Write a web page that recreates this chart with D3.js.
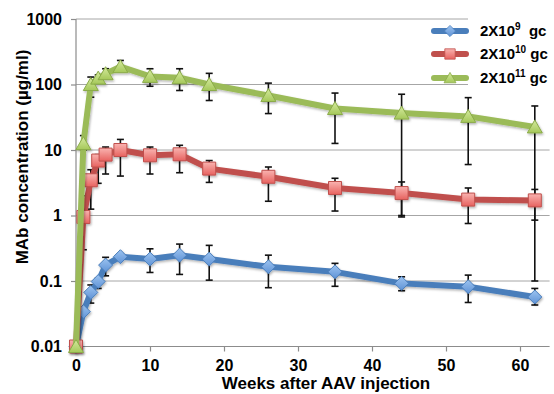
<!DOCTYPE html>
<html>
<head>
<meta charset="utf-8">
<script src="https://cdn.jsdelivr.net/npm/d3@7"></script>
<style>
  body { margin: 0; background: #fff; }
  text { font-family: "Liberation Sans", Arial, sans-serif; font-weight: bold; fill: #000; }
</style>
</head>
<body>
<div id="chart"></div>
<script>
// weeks after injection
const weeks = [0, 1, 2, 3, 4, 6, 10, 14, 18, 26, 35, 44, 53, 62];

// 2X10^9 gc
const lowMean = [0.01, 0.034, 0.067, 0.098, 0.175, 0.235, 0.216, 0.248, 0.216, 0.165, 0.138, 0.092, 0.082, 0.057];
const lowLow  = [null, null, 0.046, 0.077, 0.12, 0.21, 0.135, 0.126, 0.103, 0.079, 0.083, 0.071, 0.047, 0.043];
const lowHigh = [null, null, 0.087, 0.11, 0.23, 0.26, 0.31, 0.366, 0.35, 0.248, 0.186, 0.116, 0.123, 0.077];

// 2X10^10 gc
const midMean = [0.01, 0.95, 3.45, 6.9, 8.5, 10.0, 8.3, 8.6, 5.2, 3.9, 2.63, 2.2, 1.75, 1.7];
const midLow  = [null, 0.3, 1.25, 3.1, 4.3, 4.0, 4.3, 4.5, 3.2, 1.65, 1.17, 1.0, 0.755, 0.85];
const midHigh = [null, 2.0, 5.0, 8.5, 11.1, 14.5, 11.1, 11.8, 6.9, 5.5, 3.7, 3.25, 2.63, 2.5];

// 2X10^11 gc
const highMean = [0.01, 12.5, 100, 125, 146, 187, 133, 127, 100, 68, 43, 36.6, 32.6, 22.5];
const highLow  = [null, 10, 64, 110, 130, 165, 94, 81, 57, 36, 12.6, 0.95, 6.0, 0.1];
const highHigh = [null, 16.6, 130, 140, 174, 233, 174, 174, 148, 105, 74, 71, 63, 47];

const doseExponents = ['9', '10', '11'];
const xTicks = [0, 10, 20, 30, 40, 50, 60];
const yTicks = [0.01, 0.1, 1, 10, 100, 1000];

const width = 554, height = 394;
const svg = d3.select('#chart').append('svg')
  .attr('width', width)
  .attr('height', height);

const defs = svg.append('defs');
const shadow = defs.append('filter').attr('id', 'shadow')
  .attr('x', '-20%').attr('y', '-20%').attr('width', '140%').attr('height', '140%');
shadow.append('feDropShadow')
  .attr('dx', 1).attr('dy', 1.5).attr('stdDeviation', 1.2)
  .attr('flood-color', '#000').attr('flood-opacity', 0.3);

const grad = (id, c1, c2) => {
  const g = defs.append('linearGradient').attr('id', id)
    .attr('x1', 0).attr('y1', 0).attr('x2', 0).attr('y2', 1);
  g.append('stop').attr('offset', '0%').attr('stop-color', c1);
  g.append('stop').attr('offset', '100%').attr('stop-color', c2);
};
grad('gBlue', '#9cc3f0', '#5f93d6');
grad('gRed', '#f9b3b0', '#e7625f');
grad('gGreen', '#d5ea9e', '#a5c85a');

const x = d3.scaleLinear().domain([0, 64]).range([76, 549.6]);
const y = d3.scaleLog().domain([0.01, 1000]).range([346.5, 19]);

// grid
svg.append('g')
  .selectAll('line')
  .data(yTicks.slice(1))
  .enter().append('line')
  .attr('x1', x(0)).attr('x2', x(64))
  .attr('y1', d => y(d)).attr('y2', d => y(d))
  .attr('stroke', '#a6a6a6').attr('stroke-width', 1);

// axes
const xAxis = svg.append('g')
  .attr('transform', `translate(0,${y(0.01)})`)
  .call(d3.axisBottom(x).tickValues(xTicks).tickSize(5).tickPadding(8).tickFormat(d3.format('d')));
const yAxis = svg.append('g')
  .attr('transform', `translate(${x(0)},0)`)
  .call(d3.axisLeft(y).tickValues(yTicks).tickSize(5).tickPadding(9).tickFormat(d => String(d)));

[xAxis, yAxis].forEach(a => {
  a.select('.domain').attr('stroke', '#8c8c8c').attr('stroke-width', 1.2);
  a.selectAll('.tick line').attr('stroke', '#8c8c8c').attr('stroke-width', 1.2);
  a.selectAll('.tick text').style('font-size', '16px').attr('fill', '#000');
});
yAxis.select('.domain').attr('d', `M-0,${y(1000)}V${y(0.01)}`);
xAxis.select('.domain').attr('d', `M${x(0)},0H${x(64)}`);

// axis titles
svg.append('text')
  .attr('x', 326).attr('y', 389)
  .attr('text-anchor', 'middle')
  .style('font-size', '17px')
  .text('Weeks after AAV injection');

svg.append('text')
  .attr('transform', 'translate(28,157) rotate(-90)')
  .attr('text-anchor', 'middle')
  .style('font-size', '17px')
  .text('MAb concentration (µg/ml)');

const series = [
  {mean: lowMean, low: lowLow, high: lowHigh, stroke: '#4a7ebb', fill: 'url(#gBlue)', edge: '#4a7ebb', shape: 'diamond'},
  {mean: midMean, low: midLow, high: midHigh, stroke: '#c0504d', fill: 'url(#gRed)', edge: '#c0504d', shape: 'square'},
  {mean: highMean, low: highLow, high: highHigh, stroke: '#9bbb59', fill: 'url(#gGreen)', edge: '#8aab48', shape: 'triangle'}
];

const markerPath = shape => {
  if (shape === 'diamond') return 'M0,-7L7,0L0,7L-7,0Z';
  if (shape === 'square') return 'M-6.5,-6.5H6.5V6.5H-6.5Z';
  return 'M0,-7L7.5,6L-7.5,6Z';
};

// error bars (drawn under all lines)
const errG = svg.append('g');
series.forEach(s => {
  weeks.forEach((w, i) => {
    const cx = x(w);
    const top = s.high[i] != null ? s.high[i] : s.mean[i];
    const bot = s.low[i] != null ? s.low[i] : s.mean[i];
    if (top === bot) return;
    errG.append('line')
      .attr('x1', cx).attr('x2', cx)
      .attr('y1', y(top)).attr('y2', y(bot))
      .attr('stroke', '#111').attr('stroke-width', 1.6);
    [s.high[i], s.low[i]].forEach(v => {
      if (v == null) return;
      errG.append('line')
        .attr('x1', cx - 3.5).attr('x2', cx + 3.5)
        .attr('y1', y(v)).attr('y2', y(v))
        .attr('stroke', '#111').attr('stroke-width', 1.6);
    });
  });
});

const line = d3.line().x(d => x(d[0])).y(d => y(d[1]));

series.forEach(s => {
  const g = svg.append('g').attr('filter', 'url(#shadow)');
  const pts = weeks.map((w, i) => [w, s.mean[i]]);
  g.append('path')
    .datum(pts)
    .attr('d', line)
    .attr('fill', 'none')
    .attr('stroke', s.stroke)
    .attr('stroke-width', 6)
    .attr('stroke-linejoin', 'round');
  g.selectAll('.m')
    .data(pts)
    .enter().append('path')
    .attr('transform', d => `translate(${x(d[0])},${y(d[1])})`)
    .attr('d', markerPath(s.shape))
    .attr('fill', s.fill)
    .attr('stroke', s.edge)
    .attr('stroke-width', 1);
});

// legend
svg.append('rect')
  .attr('x', 468).attr('y', 10).attr('width', 86).attr('height', 80)
  .attr('fill', '#fff');

const legendY = [31, 54, 78];
series.forEach((s, i) => {
  const g = svg.append('g').attr('transform', `translate(0,${legendY[i]})`);
  g.append('line')
    .attr('x1', 434).attr('x2', 466)
    .attr('stroke', s.stroke).attr('stroke-width', 6)
    .attr('stroke-linecap', 'round');
  g.append('path')
    .attr('transform', 'translate(450,0) scale(0.8)')
    .attr('d', markerPath(s.shape))
    .attr('fill', s.fill)
    .attr('stroke', s.edge);
  const t = g.append('text')
    .attr('x', 480).attr('y', 5)
    .style('font-size', '15px');
  t.append('tspan').text('2X10');
  t.append('tspan').attr('dy', -6).style('font-size', '10px').text(doseExponents[i]);
  t.append('tspan').attr('dy', 6).text(i === 0 ? '\u00a0 gc' : ' gc');
});
</script>
</body>
</html>
